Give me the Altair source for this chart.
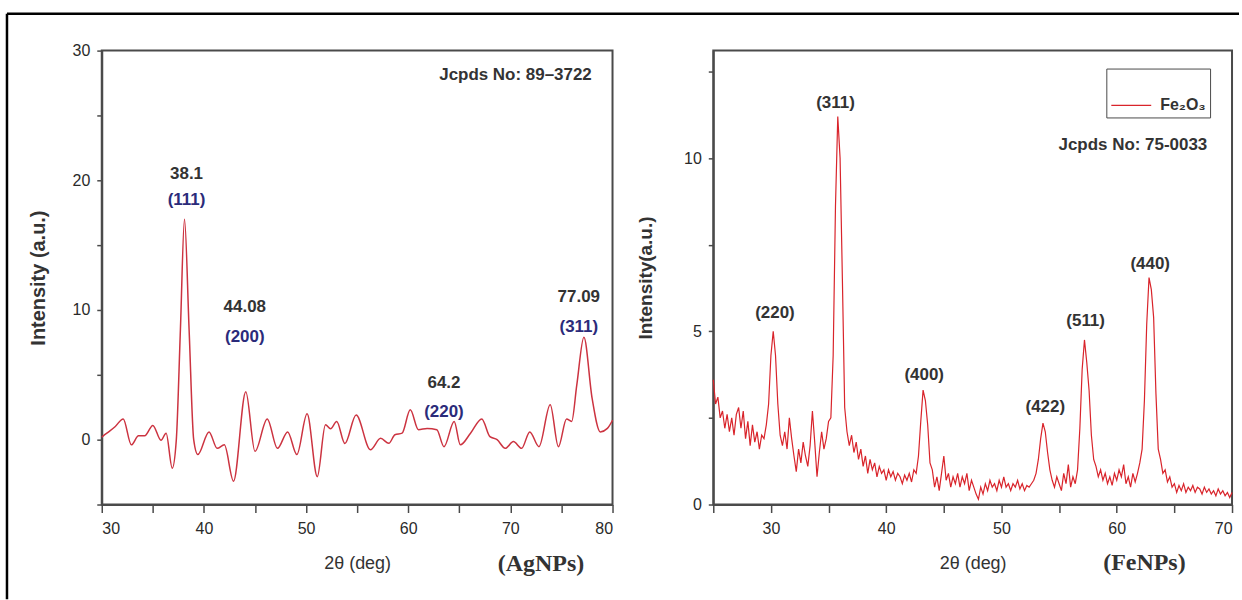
import altair as alt
import pandas as pd

# ---------------- AgNPs (left panel) ----------------
ag_theta = [30.0, 30.5, 31.3, 32.1, 32.9, 33.6, 34.2, 35.0, 35.8, 36.3,
            36.9, 37.3, 37.7, 38.1, 38.55, 39.0, 39.4, 40.5, 41.3, 42.0,
            42.9, 44.1, 45.0, 46.2, 47.2, 48.2, 49.1, 50.1, 51.1, 51.9,
            52.4, 53.0, 53.8, 54.9, 56.3, 57.3, 58.1, 58.7, 59.4, 60.2,
            61.0, 61.85, 62.8, 63.5, 64.5, 65.1, 66.1, 67.2, 68.0, 68.7,
            69.5, 70.3, 71.1, 71.9, 72.8, 73.9, 74.7, 75.5, 76.0, 76.5,
            77.2, 78.0, 78.8, 79.5, 80.0]
ag_int = [0.2, 0.5, 1.0, 1.6, -0.4, 0.3, 0.3, 1.1, -0.05, 0.5,
          -2.2, 0.0, 8.5, 17.0, 8.5, 0.0, -1.15, 0.6, -0.67, -0.4,
          -3.2, 3.7, -0.9, 1.6, -0.67, 0.6, -1.15, 2.0, -2.85, 1.15,
          0.85, 1.4, -0.3, 1.9, -0.78, 0.1, -0.28, 0.38, 0.5, 2.3,
          0.77, 0.87, 0.77, -0.54, 1.4, -0.4, 0.5, 1.6, 0.23, 0.0,
          -0.67, -0.15, -0.67, 0.6, -0.54, 2.7, -0.54, 1.6, 1.4, 4.2,
          7.9, 3.2, 0.6, 0.87, 1.5]

ag_label_text = ["38.1", "(111)", "44.08", "(200)", "64.2", "(220)", "77.09", "(311)"]
ag_label_x = [38.3, 38.3, 44.0, 44.0, 63.5, 63.5, 76.7, 76.7]
ag_label_y = [20.45, 18.45, 10.2, 7.9, 4.4, 2.15, 11.0, 8.7]

ag_note_text = ["Jcpds No: 89\u20133722"]
ag_note_x = [70.5]
ag_note_y = [28.1]

ag_name_text = ["(AgNPs)"]
ag_name_x = [73.0]
ag_name_y = [-9.55]

# ---------------- FeNPs (right panel), 2θ = 25.0 ... 70.0 step 0.2 ----------------
fe_int = [
    3.6, 2.9, 3.1, 2.5, 2.7,      # 25
    2.2, 2.6, 2.1, 2.5, 2.0,      # 26
    2.6, 2.8, 2.2, 2.7, 1.9,      # 27
    2.4, 1.7, 2.3, 1.8, 2.1,      # 28
    1.6, 2.0, 1.9, 2.3, 2.9,      # 29
    4.3, 5.0, 4.3, 2.9, 2.0,      # 30
    1.7, 2.1, 1.6, 2.5, 1.9,      # 31
    1.4, 0.95, 1.6, 1.2, 1.8,     # 32
    1.4, 1.1, 1.7, 2.7, 1.8,      # 33
    0.8, 1.5, 2.1, 1.6, 1.9,      # 34
    2.4, 2.5, 4.3, 8.6, 11.2,     # 35
    10.0, 6.5, 2.8, 2.1, 1.7,     # 36
    2.0, 1.5, 1.8, 1.3, 1.6,      # 37
    1.1, 1.4, 0.9, 1.3, 1.0,      # 38
    1.2, 0.8, 1.1, 0.9, 1.0,      # 39
    0.7, 1.0, 0.8, 0.95, 0.7,     # 40
    0.9, 0.8, 0.6, 0.85, 0.7,     # 41
    0.9, 0.65, 1.0, 0.9, 1.4,     # 42
    2.4, 3.3, 3.0, 2.3, 1.2,      # 43
    1.0, 0.5, 0.8, 0.4, 0.9,      # 44
    1.4, 0.7, 0.9, 0.5, 0.8,      # 45
    0.6, 0.9, 0.5, 0.8, 0.6,      # 46
    0.9, 0.4, 0.7, 0.5, 0.3,      # 47
    0.15, 0.5, 0.3, 0.6, 0.4,     # 48
    0.7, 0.5, 0.6, 0.4, 0.7,      # 49
    0.5, 0.8, 0.5, 0.6, 0.4,      # 50
    0.6, 0.5, 0.7, 0.45, 0.6,     # 51
    0.4, 0.55, 0.5, 0.6, 0.7,     # 52
    0.9, 1.3, 1.9, 2.35, 2.1,     # 53
    1.5, 1.0, 0.7, 0.5, 0.8,      # 54
    0.6, 0.4, 0.9, 0.6, 1.15,     # 55
    0.5, 0.8, 0.6, 1.0, 2.2,      # 56
    3.9, 4.75, 4.1, 3.3, 2.0,     # 57
    1.3, 1.1, 0.8, 1.0, 0.7,      # 58
    0.9, 0.6, 0.8, 0.55, 0.9,     # 59
    0.7, 1.0, 0.8, 1.15, 0.6,     # 60
    0.8, 0.5, 0.9, 0.65, 0.9,     # 61
    1.2, 1.6, 3.0, 5.2, 6.55,     # 62
    6.2, 5.4, 3.2, 1.6, 1.3,      # 63
    0.9, 1.0, 0.65, 0.8, 0.5,     # 64
    0.6, 0.35, 0.55, 0.4, 0.6,    # 65
    0.35, 0.5, 0.4, 0.55, 0.35,   # 66
    0.5, 0.45, 0.3, 0.5, 0.35,    # 67
    0.45, 0.3, 0.4, 0.25, 0.45,   # 68
    0.3, 0.4, 0.25, 0.35, 0.2,    # 69
    0.35,                         # 70
]
fe_theta = [round(25 + 0.2 * i, 1) for i in range(len(fe_int))]
fe_series = "Fe\u2082O\u2083"

fe_label_text = ["(311)", "(220)", "(400)", "(422)", "(511)", "(440)"]
fe_label_x = [35.6, 30.35, 43.3, 53.8, 57.3, 62.9]
fe_label_y = [11.58, 5.52, 3.74, 2.82, 5.29, 6.93]

fe_note_text = ["Jcpds No: 75-0033"]
fe_note_x = [61.4]
fe_note_y = [10.37]

fe_name_text = ["(FeNPs)"]
fe_name_x = [62.4]
fe_name_y = [-1.7]

# ---------------- data frames ----------------
ag_df = pd.DataFrame({"theta": ag_theta, "intensity": ag_int})
ag_lab = pd.DataFrame({"x": ag_label_x, "y": ag_label_y, "label": ag_label_text})
ag_note = pd.DataFrame({"x": ag_note_x, "y": ag_note_y, "label": ag_note_text})
ag_name = pd.DataFrame({"x": ag_name_x, "y": ag_name_y, "label": ag_name_text})

fe_df = pd.DataFrame({"theta": fe_theta, "intensity": fe_int, "series": fe_series})
fe_lab = pd.DataFrame({"x": fe_label_x, "y": fe_label_y, "label": fe_label_text})
fe_note = pd.DataFrame({"x": fe_note_x, "y": fe_note_y, "label": fe_note_text})
fe_name = pd.DataFrame({"x": fe_name_x, "y": fe_name_y, "label": fe_name_text})

FONT = "Liberation Sans"
SERIF = "Liberation Serif"
DARK = "#333333"
NAVY = "#2b2b7a"
FRAME = "#4a4a4a"
LBL = 17

# ---------------- left panel ----------------
ag_x = alt.X("theta:Q", scale=alt.Scale(domain=[30, 80], nice=False, zero=False),
             axis=alt.Axis(title="2\u03b8 (deg)", values=list(range(30, 81, 5)),
                           labelExpr="datum.value % 10 === 0 ? datum.label : ''",
                           tickSize=8, labelPadding=8,
                           titlePadding=18, titleFontWeight="normal", titleFontSize=18))
ag_y = alt.Y("intensity:Q", scale=alt.Scale(domain=[-5, 30], nice=False, zero=False),
             axis=alt.Axis(title="Intensity (a.u.)", values=list(range(-5, 31, 5)),
                           labelExpr="datum.value % 10 === 0 ? datum.label : ''",
                           tickSize=5, labelPadding=7,
                           titlePadding=24, titleFontWeight="bold", titleFontSize=20))

ag_line = alt.Chart(ag_df).mark_line(color="#cc3340", strokeWidth=1.5, interpolate="monotone").encode(
    x=ag_x, y=ag_y)

ag_labels = alt.Chart(ag_lab).mark_text(font=FONT, fontSize=LBL, fontWeight="bold", baseline="middle").encode(
    x="x:Q", y="y:Q", text="label:N",
    color=alt.condition("indexof(datum.label, '(') === 0", alt.value(NAVY), alt.value(DARK)))

ag_note_m = alt.Chart(ag_note).mark_text(font=FONT, fontSize=LBL, fontWeight="bold", color=DARK,
                                         baseline="middle").encode(x="x:Q", y="y:Q", text="label:N")

ag_name_m = alt.Chart(ag_name).mark_text(font=SERIF, fontSize=24, fontWeight="bold", color=DARK,
                                         baseline="middle").encode(x="x:Q", y="y:Q", text="label:N")

one = pd.DataFrame({"k": [0]})
border_top = alt.Chart(one).mark_rule(color="black", strokeWidth=2.5).encode(
    x=alt.value(-95), x2=alt.value(1140), y=alt.value(-37))
border_left = alt.Chart(one).mark_rule(color="black", strokeWidth=2.5).encode(
    x=alt.value(-95), y=alt.value(-37), y2=alt.value(550))

left = alt.layer(ag_line, ag_labels, ag_note_m, ag_name_m, border_top, border_left).properties(
    width=512, height=455)

# ---------------- right panel ----------------
fe_x = alt.X("theta:Q", scale=alt.Scale(domain=[25, 70], nice=False, zero=False),
             axis=alt.Axis(title="2\u03b8 (deg)", values=list(range(25, 71, 5)),
                           labelExpr="datum.value % 10 === 0 ? datum.label : ''",
                           tickSize=8, labelPadding=8,
                           titlePadding=18, titleFontWeight="normal", titleFontSize=18))
fe_y = alt.Y("intensity:Q", scale=alt.Scale(domain=[0, 13.1], nice=False, zero=False),
             axis=alt.Axis(title="Intensity(a.u.)", values=[0, 2.5, 5, 7.5, 10, 12.5],
                           labelExpr="datum.value % 5 === 0 ? format(datum.value, 'd') : ''",
                           tickSize=5, labelPadding=7,
                           titlePadding=28, titleFontWeight="bold", titleFontSize=19))

fe_line = alt.Chart(fe_df).mark_line(strokeWidth=1.2).encode(
    x=fe_x, y=fe_y,
    color=alt.Color("series:N", scale=alt.Scale(range=["#d9242b"]),
                    legend=alt.Legend(orient="none", legendX=1007, legendY=18, title=" ",
                                      titleFontSize=12, titlePadding=0, padding=4,
                                      strokeColor=FRAME, fillColor="white",
                                      symbolType="stroke", symbolSize=1600,
                                      symbolStrokeWidth=1.3, symbolStrokeColor="#c98f80",
                                      labelFont=FONT, labelFontSize=16, labelFontWeight="bold",
                                      labelColor=DARK, labelOffset=8)))

fe_labels = alt.Chart(fe_lab).mark_text(font=FONT, fontSize=LBL, fontWeight="bold", color=DARK,
                                        baseline="middle").encode(x="x:Q", y="y:Q", text="label:N")
fe_note_m = alt.Chart(fe_note).mark_text(font=FONT, fontSize=LBL, fontWeight="bold", color=DARK,
                                         baseline="middle").encode(x="x:Q", y="y:Q", text="label:N")
fe_name_m = alt.Chart(fe_name).mark_text(font=SERIF, fontSize=24, fontWeight="bold", color=DARK,
                                         baseline="middle").encode(x="x:Q", y="y:Q", text="label:N")

right = alt.layer(fe_line, fe_labels, fe_note_m, fe_name_m).properties(width=520, height=455)

chart = alt.hconcat(left, right, spacing=101, bounds="flush").properties(
    padding={"left": 4, "top": 10, "right": 0, "bottom": 0},
    background="white",
).configure_view(
    stroke=FRAME, strokeWidth=2
).configure_axis(
    grid=False,
    labelFont=FONT, labelFontSize=16, labelColor="#2a2a2a",
    titleFont=FONT, titleColor=DARK,
    domainColor=FRAME, domainWidth=2, tickColor=FRAME, tickWidth=1.5,
)

chart.save("out.html", embed_options={"renderer": "svg", "actions": False})
